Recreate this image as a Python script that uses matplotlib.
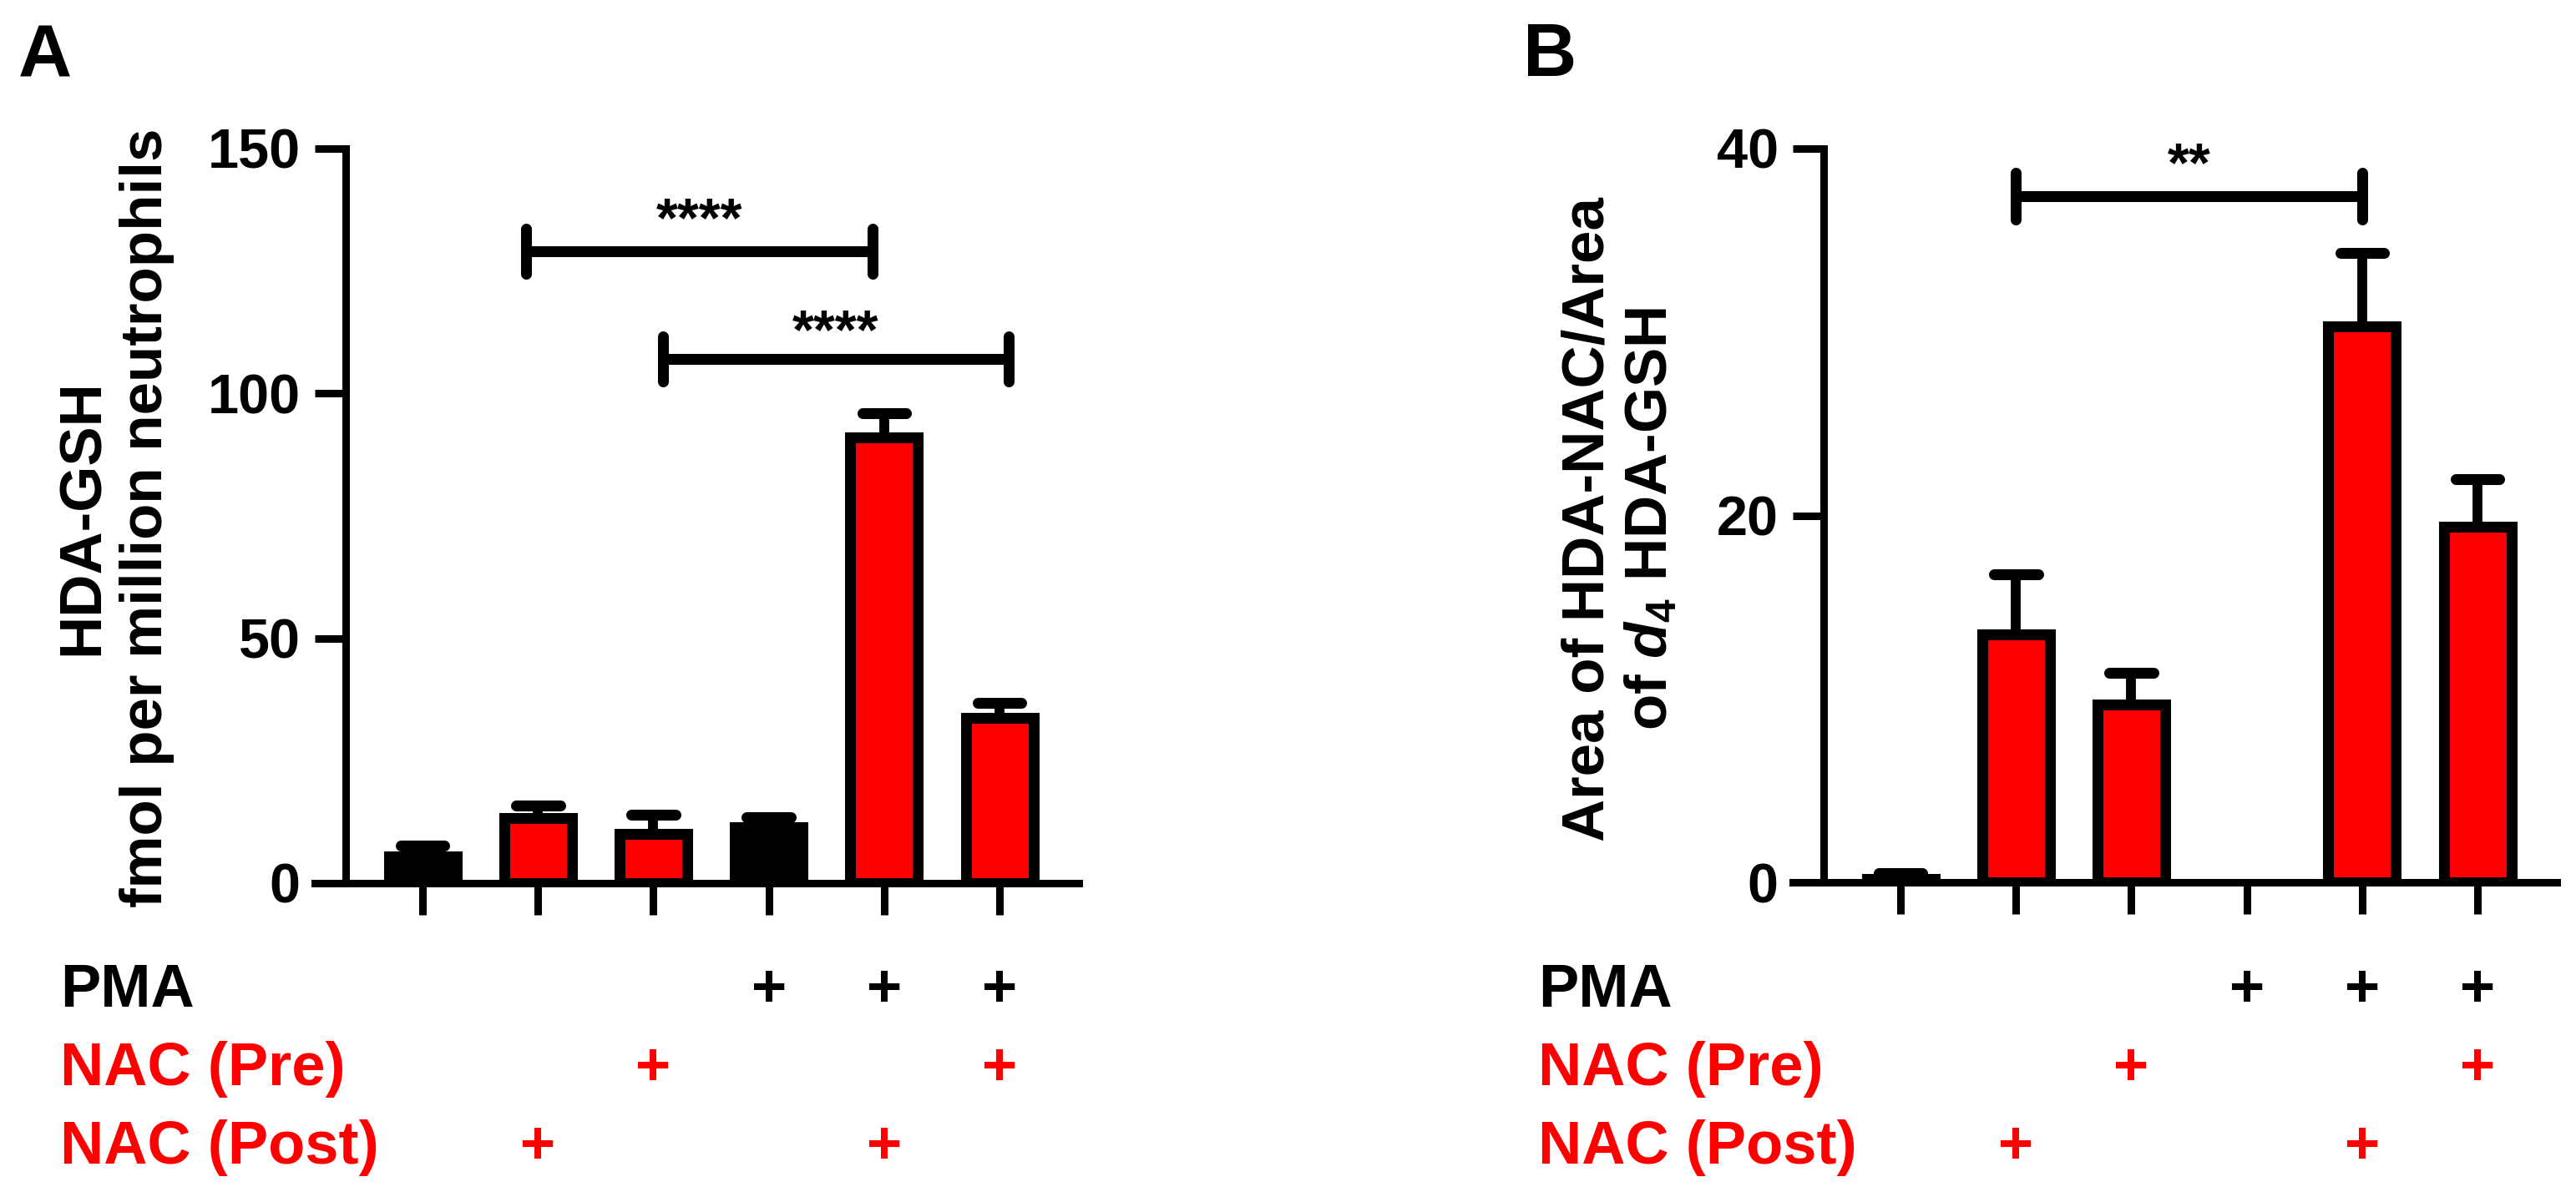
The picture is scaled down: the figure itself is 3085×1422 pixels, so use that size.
import numpy as np
import matplotlib
matplotlib.use("Agg")
import matplotlib.pyplot as plt
import matplotlib.transforms as mtransforms

plt.rcParams['font.family'] = ['Liberation Sans', 'DejaVu Sans']
plt.rcParams['font.weight'] = 'bold'
plt.rcParams['mathtext.fontset'] = 'custom'
plt.rcParams['mathtext.it'] = 'Liberation Sans:bold:italic'
plt.rcParams['mathtext.rm'] = 'Liberation Sans:bold'
plt.rcParams['mathtext.bf'] = 'Liberation Sans:bold'

# groups (left to right): PMA / NAC pre / NAC post treatment flags
pma = [0, 0, 0, 1, 1, 1]
nac_pre = [0, 0, 1, 0, 0, 1]
nac_post = [0, 1, 0, 0, 1, 0]
bar_colors = ['black', 'red', 'red', 'black', 'red', 'red']

# panel A: HDA-GSH, fmol per million neutrophils (mean, SEM)
a_mean = [5.5, 13.3, 10.0, 11.4, 91.1, 33.7]
a_err = [2.2, 2.6, 3.9, 2.0, 4.9, 3.1]
a_ticks = [0, 50, 100, 150]
# significance brackets: (x1, x2, y, label)
a_sig = [(0.9, 3.9, 129, '****'), (2.08, 5.08, 107, '****')]

# panel B: area ratio HDA-NAC / d4 HDA-GSH (mean, SEM)
b_mean = [0.2, 13.5, 9.7, 0.0, 30.3, 19.4]
b_err = [0.3, 3.3, 1.7, 0.0, 4.0, 2.6]
b_ticks = [0, 20, 40]
b_sig = [(1.0, 4.0, 37.4, '**')]

W, H = 3085, 1422
fig = plt.figure(figsize=(W / 100, H / 100), dpi=100)

LW = 6.5      # axis line width in pt (~9 px)
BAR_LW = 9.4  # bar outline (~13 px)
SIG_LW = 9.4


def panel(left_px, zero_px, top_px, means, errs, ticks, sig, sig_end, star_off, label_x):
    ax = fig.add_axes([left_px / W, 1 - zero_px / H, 915 / W, (zero_px - top_px) / H])
    x = np.arange(len(means))
    bars = ax.bar(x, means, width=0.586, color=bar_colors, edgecolor='black',
                  linewidth=BAR_LW, zorder=3)
    for b, m in zip(bars, means):
        if m == 0:
            b.set_visible(False)
    ymax = ticks[-1]
    for xi, m, e in zip(x, means, errs):
        if e <= 0:
            continue
        ax.vlines(xi, m, m + e, color='black', lw=8.5, zorder=2)
        ax.hlines(m + e, xi - 0.19, xi + 0.19, color='black', lw=BAR_LW, capstyle='round', zorder=2)
    ax.set_xlim(-0.934, 5.687)
    ax.set_ylim(0, ymax)
    for sp in ['top', 'right']:
        ax.spines[sp].set_visible(False)
    ax.spines['left'].set_position(('data', -0.666))
    for sp in ['left', 'bottom']:
        ax.spines[sp].set_linewidth(LW)
        ax.spines[sp].set_capstyle('projecting')
    ax.set_yticks(ticks)
    ax.set_yticklabels([str(t) for t in ticks], fontsize=48, fontweight='bold')
    ax.set_xticks(x)
    ax.set_xticklabels([])
    ax.tick_params(axis='both', length=27, width=LW, direction='out')
    ax.tick_params(axis='y', pad=12)
    for (x1, x2, y, txt), off in zip(sig, star_off):
        ax.plot([x1, x2], [y, y], color='black', lw=SIG_LW, solid_capstyle='round', clip_on=False)
        for xe in (x1, x2):
            ax.plot([xe, xe], [y - sig_end, y + sig_end], color='black', lw=SIG_LW,
                    solid_capstyle='round', clip_on=False)
        ax.annotate(txt, xy=((x1 + x2) / 2, y), xytext=(0, off), textcoords='offset points',
                    ha='center', va='baseline', fontsize=48, fontweight='bold')

    # treatment rows under the axis
    tr = mtransforms.blended_transform_factory(ax.transData, fig.transFigure)
    rows = [('PMA', pma, 'black', 1206), ('NAC (Pre)', nac_pre, 'red', 1300),
            ('NAC (Post)', nac_post, 'red', 1394)]
    for name, flags, col, base in rows:
        fig.text(label_x / W, 1 - base / H, name, color=col, fontsize=52,
                 fontweight='bold', ha='left', va='baseline')
        for xi, f in zip(x, flags):
            if f:
                ax.text(xi, 1 - base / H, '+', transform=tr, color=col, fontsize=52,
                        fontweight='bold', ha='center', va='baseline', clip_on=False)
    return ax


axA = panel(377, 1058, 178, a_mean, a_err, a_ticks, a_sig, 4.6, [13, 9.5], 72)
axB = panel(2147, 1057, 178, b_mean, b_err, b_ticks, b_sig, 1.27, [13], 1842)

fig.text(138 / W, 1 - 620 / H, 'HDA-GSH\nfmol per million neutrophils', rotation=90,
         ha='center', va='center', fontsize=51, fontweight='bold', multialignment='center')
fig.text(1941 / W, 1 - 622 / H, 'Area of HDA-NAC/Area\nof $d_4$ HDA-GSH', rotation=90,
         ha='center', va='center', fontsize=51, fontweight='bold', multialignment='center')

fig.text(22 / W, 1 - 92 / H, 'A', fontsize=64, fontweight='bold', ha='left', va='baseline')
fig.text(1824 / W, 1 - 91 / H, 'B', fontsize=64, fontweight='bold', ha='left', va='baseline')

fig.savefig('out.png', dpi=100, facecolor='white')
